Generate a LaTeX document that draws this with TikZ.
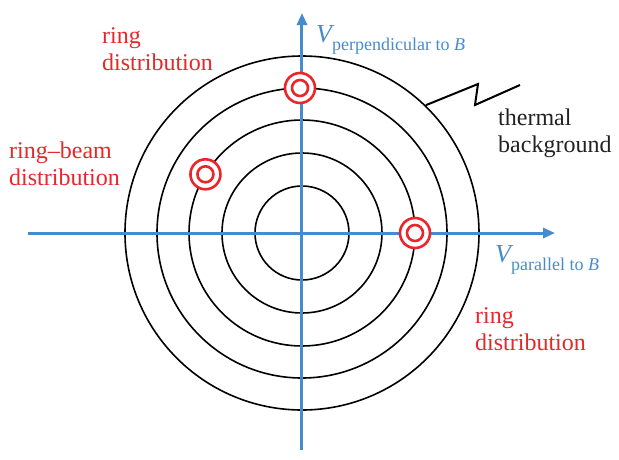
\documentclass[tikz,border=0pt]{standalone}
\usepackage{fontspec}
\setmainfont{Liberation Serif}
\usetikzlibrary{arrows.meta}
\definecolor{axisblue}{HTML}{468CCD}
\definecolor{ringred}{HTML}{E8262C}
\definecolor{inkgray}{HTML}{222222}

\begin{document}
\begin{tikzpicture}[
  x=1pt,y=1pt,
  axis/.style={-{Triangle[length=12pt,width=10pt]},line width=3pt,draw=axisblue},
  shell/.style={line width=1.6pt,draw=black},
  zig/.style={line width=2pt,draw=black},
  target/.style={circle,draw=ringred,line width=2.6pt,fill=white,minimum size=30pt,inner sep=0pt},
  hole/.style={circle,draw=ringred,line width=2.6pt,minimum size=16pt,inner sep=0pt},
  redlabel/.style={text=ringred,font=\fontsize{24}{27}\selectfont,align=left,inner sep=0pt,anchor=base west},
  note/.style={text=inkgray,font=\fontsize{24}{27}\selectfont,align=left,inner sep=0pt,anchor=base west},
  axislabel/.style={text=axisblue,inner sep=0pt,anchor=base west}
]
\useasboundingbox (-302,-226) rectangle (317,233);
\coordinate (origin) at (0,0);

% thermal background shells
\foreach \r in {47,80,113,145,177}
  \draw[shell] (origin) circle (\r pt);

% velocity axes
\coordinate (xtail) at (-274,0);
\coordinate (xhead) at (253,0);
\coordinate (ytail) at (0,-217);
\coordinate (yhead) at (0,220);
\draw[axis] (xtail) -- (xhead);
\draw[axis] (ytail) -- (yhead);

\node[axislabel] (vperp) at (14,191) {\fontsize{26}{30}\selectfont\itshape V\raisebox{-8pt}{\fontsize{18}{20}\selectfont\upshape perpendicular to \itshape B}};
\node[axislabel] (vpar) at (193,-29) {\fontsize{26}{30}\selectfont\itshape V\raisebox{-8pt}{\fontsize{18}{20}\selectfont\upshape parallel to \itshape B}};

% distributions
\node[target] (ringup) at (-2,145) {};
\node[hole] (ringuphole) at (ringup) {};
\node[target] (beam) at (148.7:113pt) {};
\node[hole] (beamhole) at (beam) {};
\node[target] (ringright) at (0:113pt) {};
\node[hole] (ringrighthole) at (ringright) {};

% base anchor sits on the last line
\node[redlabel] (ringtoplabel) at (-200,163) {ring\\distribution};
\node[redlabel] (beamlabel) at (-293,48) {ring--beam\\distribution};
\node[redlabel] (ringrightlabel) at (173,-117) {ring\\distribution};

% pointer to the thermal part
\coordinate (rim) at (45.9:178pt);
\coordinate (kinka) at (176,149);
\coordinate (kinkb) at (173,128);
\coordinate (zigend) at (218,148);
\draw[zig] (rim) -- (kinka) -- (kinkb) -- (zigend);
\node[note] (thermal) at (196,81) {thermal\\background};
\end{tikzpicture}
\end{document}
